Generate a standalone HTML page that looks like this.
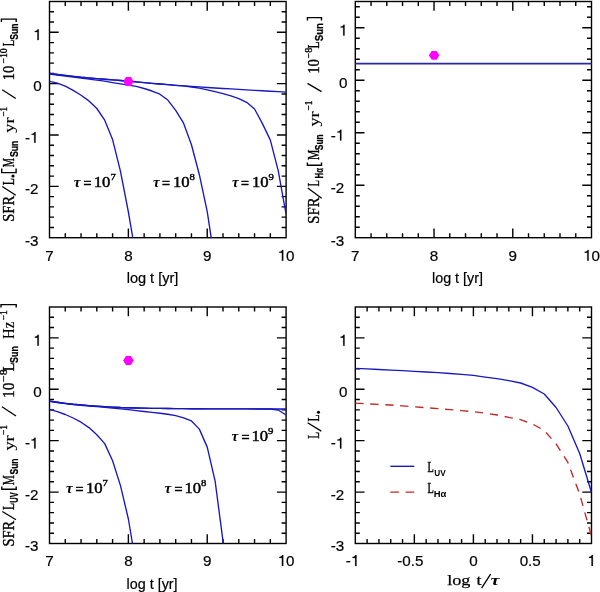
<!DOCTYPE html>
<html><head><meta charset="utf-8"><style>
html,body{margin:0;padding:0;background:#fff;width:600px;height:592px;overflow:hidden}
svg{display:block;will-change:transform}
.tl{font-family:"Liberation Sans",sans-serif;font-size:15.2px;fill:#000;stroke:#000;stroke-width:0.2px}
text{fill:#000}
</style></head><body>
<svg width="600" height="592" viewBox="0 0 600 592">
<rect width="600" height="592" fill="#fff"/>
<defs><clipPath id="cP1"><rect x="49.5" y="1.5" width="236.6" height="236.2"/></clipPath><clipPath id="cP2"><rect x="355.3" y="1.5" width="236.2" height="236.2"/></clipPath><clipPath id="cP3"><rect x="49.5" y="307" width="236.6" height="236.5"/></clipPath><clipPath id="cP4"><rect x="355.3" y="307" width="236.2" height="236.5"/></clipPath></defs>
<path d="M65.27 237.7v-4.5M65.27 1.5v4.5M81.05 237.7v-4.5M81.05 1.5v4.5M96.82 237.7v-4.5M96.82 1.5v4.5M112.59 237.7v-4.5M112.59 1.5v4.5M128.37 237.7v-9.2M128.37 1.5v9.2M144.14 237.7v-4.5M144.14 1.5v4.5M159.91 237.7v-4.5M159.91 1.5v4.5M175.69 237.7v-4.5M175.69 1.5v4.5M191.46 237.7v-4.5M191.46 1.5v4.5M207.23 237.7v-9.2M207.23 1.5v9.2M223.01 237.7v-4.5M223.01 1.5v4.5M238.78 237.7v-4.5M238.78 1.5v4.5M254.55 237.7v-4.5M254.55 1.5v4.5M270.33 237.7v-4.5M270.33 1.5v4.5M49.5 227.43h4.5M286.1 227.43h-4.5M49.5 217.16h4.5M286.1 217.16h-4.5M49.5 206.89h4.5M286.1 206.89h-4.5M49.5 196.62h4.5M286.1 196.62h-4.5M49.5 186.35h9.2M286.1 186.35h-9.2M49.5 176.08h4.5M286.1 176.08h-4.5M49.5 165.81h4.5M286.1 165.81h-4.5M49.5 155.54h4.5M286.1 155.54h-4.5M49.5 145.27h4.5M286.1 145.27h-4.5M49.5 135h9.2M286.1 135h-9.2M49.5 124.73h4.5M286.1 124.73h-4.5M49.5 114.47h4.5M286.1 114.47h-4.5M49.5 104.2h4.5M286.1 104.2h-4.5M49.5 93.93h4.5M286.1 93.93h-4.5M49.5 83.66h9.2M286.1 83.66h-9.2M49.5 73.39h4.5M286.1 73.39h-4.5M49.5 63.12h4.5M286.1 63.12h-4.5M49.5 52.85h4.5M286.1 52.85h-4.5M49.5 42.58h4.5M286.1 42.58h-4.5M49.5 32.31h9.2M286.1 32.31h-9.2M49.5 22.04h4.5M286.1 22.04h-4.5M49.5 11.77h4.5M286.1 11.77h-4.5" stroke="#000" stroke-width="1.4" fill="none"/>
<rect x="49.5" y="1.5" width="236.6" height="236.2" stroke="#000" stroke-width="1.4" fill="none"/>
<text class="tl" x="24.9" y="245.5">-3</text>
<text class="tl" x="24.9" y="194.15">-2</text>
<text class="tl" x="24.9" y="142.8">-</text>
<path d="M369 0V-709H300C285-640 220-592 110-587V-527H279V0Z" stroke="#000" stroke-width="14" transform="translate(29.96 142.8) scale(0.01520)"/>
<text class="tl" x="33.15" y="91.46">0</text>
<path d="M369 0V-709H300C285-640 220-592 110-587V-527H279V0Z" stroke="#000" stroke-width="14" transform="translate(33.15 40.11) scale(0.01520)"/>
<text class="tl" x="45.27" y="260.7">7</text>
<text class="tl" x="124.14" y="260.7">8</text>
<text class="tl" x="203.01" y="260.7">9</text>
<path d="M369 0V-709H300C285-640 220-592 110-587V-527H279V0Z" stroke="#000" stroke-width="14" transform="translate(277.65 260.7) scale(0.01520)"/>
<text class="tl" x="286.1" y="260.7">0</text>
<path d="M371.05 237.7v-4.5M371.05 1.5v4.5M386.79 237.7v-4.5M386.79 1.5v4.5M402.54 237.7v-4.5M402.54 1.5v4.5M418.29 237.7v-4.5M418.29 1.5v4.5M434.03 237.7v-9.2M434.03 1.5v9.2M449.78 237.7v-4.5M449.78 1.5v4.5M465.53 237.7v-4.5M465.53 1.5v4.5M481.27 237.7v-4.5M481.27 1.5v4.5M497.02 237.7v-4.5M497.02 1.5v4.5M512.77 237.7v-9.2M512.77 1.5v9.2M528.51 237.7v-4.5M528.51 1.5v4.5M544.26 237.7v-4.5M544.26 1.5v4.5M560.01 237.7v-4.5M560.01 1.5v4.5M575.75 237.7v-4.5M575.75 1.5v4.5M355.3 227.2h4.5M591.5 227.2h-4.5M355.3 216.7h4.5M591.5 216.7h-4.5M355.3 206.21h4.5M591.5 206.21h-4.5M355.3 195.71h4.5M591.5 195.71h-4.5M355.3 185.21h9.2M591.5 185.21h-9.2M355.3 174.71h4.5M591.5 174.71h-4.5M355.3 164.22h4.5M591.5 164.22h-4.5M355.3 153.72h4.5M591.5 153.72h-4.5M355.3 143.22h4.5M591.5 143.22h-4.5M355.3 132.72h9.2M591.5 132.72h-9.2M355.3 122.22h4.5M591.5 122.22h-4.5M355.3 111.73h4.5M591.5 111.73h-4.5M355.3 101.23h4.5M591.5 101.23h-4.5M355.3 90.73h4.5M591.5 90.73h-4.5M355.3 80.23h9.2M591.5 80.23h-9.2M355.3 69.74h4.5M591.5 69.74h-4.5M355.3 59.24h4.5M591.5 59.24h-4.5M355.3 48.74h4.5M591.5 48.74h-4.5M355.3 38.24h4.5M591.5 38.24h-4.5M355.3 27.74h9.2M591.5 27.74h-9.2M355.3 17.25h4.5M591.5 17.25h-4.5M355.3 6.75h4.5M591.5 6.75h-4.5" stroke="#000" stroke-width="1.4" fill="none"/>
<rect x="355.3" y="1.5" width="236.2" height="236.2" stroke="#000" stroke-width="1.4" fill="none"/>
<text class="tl" x="330.7" y="245.5">-3</text>
<text class="tl" x="330.7" y="193.01">-2</text>
<text class="tl" x="330.7" y="140.52">-</text>
<path d="M369 0V-709H300C285-640 220-592 110-587V-527H279V0Z" stroke="#000" stroke-width="14" transform="translate(335.76 140.52) scale(0.01520)"/>
<text class="tl" x="338.95" y="88.03">0</text>
<path d="M369 0V-709H300C285-640 220-592 110-587V-527H279V0Z" stroke="#000" stroke-width="14" transform="translate(338.95 35.54) scale(0.01520)"/>
<text class="tl" x="351.07" y="260.7">7</text>
<text class="tl" x="429.81" y="260.7">8</text>
<text class="tl" x="508.54" y="260.7">9</text>
<path d="M369 0V-709H300C285-640 220-592 110-587V-527H279V0Z" stroke="#000" stroke-width="14" transform="translate(583.05 260.7) scale(0.01520)"/>
<text class="tl" x="591.5" y="260.7">0</text>
<path d="M65.27 543.5v-4.5M65.27 307v4.5M81.05 543.5v-4.5M81.05 307v4.5M96.82 543.5v-4.5M96.82 307v4.5M112.59 543.5v-4.5M112.59 307v4.5M128.37 543.5v-9.2M128.37 307v9.2M144.14 543.5v-4.5M144.14 307v4.5M159.91 543.5v-4.5M159.91 307v4.5M175.69 543.5v-4.5M175.69 307v4.5M191.46 543.5v-4.5M191.46 307v4.5M207.23 543.5v-9.2M207.23 307v9.2M223.01 543.5v-4.5M223.01 307v4.5M238.78 543.5v-4.5M238.78 307v4.5M254.55 543.5v-4.5M254.55 307v4.5M270.33 543.5v-4.5M270.33 307v4.5M49.5 533.22h4.5M286.1 533.22h-4.5M49.5 522.93h4.5M286.1 522.93h-4.5M49.5 512.65h4.5M286.1 512.65h-4.5M49.5 502.37h4.5M286.1 502.37h-4.5M49.5 492.09h9.2M286.1 492.09h-9.2M49.5 481.8h4.5M286.1 481.8h-4.5M49.5 471.52h4.5M286.1 471.52h-4.5M49.5 461.24h4.5M286.1 461.24h-4.5M49.5 450.96h4.5M286.1 450.96h-4.5M49.5 440.67h9.2M286.1 440.67h-9.2M49.5 430.39h4.5M286.1 430.39h-4.5M49.5 420.11h4.5M286.1 420.11h-4.5M49.5 409.83h4.5M286.1 409.83h-4.5M49.5 399.54h4.5M286.1 399.54h-4.5M49.5 389.26h9.2M286.1 389.26h-9.2M49.5 378.98h4.5M286.1 378.98h-4.5M49.5 368.7h4.5M286.1 368.7h-4.5M49.5 358.41h4.5M286.1 358.41h-4.5M49.5 348.13h4.5M286.1 348.13h-4.5M49.5 337.85h9.2M286.1 337.85h-9.2M49.5 327.57h4.5M286.1 327.57h-4.5M49.5 317.28h4.5M286.1 317.28h-4.5" stroke="#000" stroke-width="1.4" fill="none"/>
<rect x="49.5" y="307" width="236.6" height="236.5" stroke="#000" stroke-width="1.4" fill="none"/>
<text class="tl" x="24.9" y="551.3">-3</text>
<text class="tl" x="24.9" y="499.89">-2</text>
<text class="tl" x="24.9" y="448.47">-</text>
<path d="M369 0V-709H300C285-640 220-592 110-587V-527H279V0Z" stroke="#000" stroke-width="14" transform="translate(29.96 448.47) scale(0.01520)"/>
<text class="tl" x="33.15" y="397.06">0</text>
<path d="M369 0V-709H300C285-640 220-592 110-587V-527H279V0Z" stroke="#000" stroke-width="14" transform="translate(33.15 345.65) scale(0.01520)"/>
<text class="tl" x="45.27" y="565.9">7</text>
<text class="tl" x="124.14" y="565.9">8</text>
<text class="tl" x="203.01" y="565.9">9</text>
<path d="M369 0V-709H300C285-640 220-592 110-587V-527H279V0Z" stroke="#000" stroke-width="14" transform="translate(277.65 565.9) scale(0.01520)"/>
<text class="tl" x="286.1" y="565.9">0</text>
<path d="M367.11 543.5v-4.5M367.11 307v4.5M378.92 543.5v-4.5M378.92 307v4.5M390.73 543.5v-4.5M390.73 307v4.5M402.54 543.5v-4.5M402.54 307v4.5M414.35 543.5v-9.2M414.35 307v9.2M426.16 543.5v-4.5M426.16 307v4.5M437.97 543.5v-4.5M437.97 307v4.5M449.78 543.5v-4.5M449.78 307v4.5M461.59 543.5v-4.5M461.59 307v4.5M473.4 543.5v-9.2M473.4 307v9.2M485.21 543.5v-4.5M485.21 307v4.5M497.02 543.5v-4.5M497.02 307v4.5M508.83 543.5v-4.5M508.83 307v4.5M520.64 543.5v-4.5M520.64 307v4.5M532.45 543.5v-9.2M532.45 307v9.2M544.26 543.5v-4.5M544.26 307v4.5M556.07 543.5v-4.5M556.07 307v4.5M567.88 543.5v-4.5M567.88 307v4.5M579.69 543.5v-4.5M579.69 307v4.5M355.3 533.22h4.5M591.5 533.22h-4.5M355.3 522.93h4.5M591.5 522.93h-4.5M355.3 512.65h4.5M591.5 512.65h-4.5M355.3 502.37h4.5M591.5 502.37h-4.5M355.3 492.09h9.2M591.5 492.09h-9.2M355.3 481.8h4.5M591.5 481.8h-4.5M355.3 471.52h4.5M591.5 471.52h-4.5M355.3 461.24h4.5M591.5 461.24h-4.5M355.3 450.96h4.5M591.5 450.96h-4.5M355.3 440.67h9.2M591.5 440.67h-9.2M355.3 430.39h4.5M591.5 430.39h-4.5M355.3 420.11h4.5M591.5 420.11h-4.5M355.3 409.83h4.5M591.5 409.83h-4.5M355.3 399.54h4.5M591.5 399.54h-4.5M355.3 389.26h9.2M591.5 389.26h-9.2M355.3 378.98h4.5M591.5 378.98h-4.5M355.3 368.7h4.5M591.5 368.7h-4.5M355.3 358.41h4.5M591.5 358.41h-4.5M355.3 348.13h4.5M591.5 348.13h-4.5M355.3 337.85h9.2M591.5 337.85h-9.2M355.3 327.57h4.5M591.5 327.57h-4.5M355.3 317.28h4.5M591.5 317.28h-4.5" stroke="#000" stroke-width="1.4" fill="none"/>
<rect x="355.3" y="307" width="236.2" height="236.5" stroke="#000" stroke-width="1.4" fill="none"/>
<text class="tl" x="330.7" y="551.3">-3</text>
<text class="tl" x="330.7" y="499.89">-2</text>
<text class="tl" x="330.7" y="448.47">-</text>
<path d="M369 0V-709H300C285-640 220-592 110-587V-527H279V0Z" stroke="#000" stroke-width="14" transform="translate(335.76 448.47) scale(0.01520)"/>
<text class="tl" x="338.95" y="397.06">0</text>
<path d="M369 0V-709H300C285-640 220-592 110-587V-527H279V0Z" stroke="#000" stroke-width="14" transform="translate(338.95 345.65) scale(0.01520)"/>
<text class="tl" x="345.84" y="565.9">-</text>
<path d="M369 0V-709H300C285-640 220-592 110-587V-527H279V0Z" stroke="#000" stroke-width="14" transform="translate(350.9 565.9) scale(0.01520)"/>
<text class="tl" x="397.2" y="565.9">-0.5</text>
<text class="tl" x="469.17" y="565.9">0</text>
<text class="tl" x="519.63" y="565.9">0.5</text>
<path d="M369 0V-709H300C285-640 220-592 110-587V-527H279V0Z" stroke="#000" stroke-width="14" transform="translate(587.27 565.9) scale(0.01520)"/>
<polyline points="49.5,73.5 57.39,74.47 65.27,75.44 73.16,76.41 81.05,77.26 88.93,77.93 96.82,78.6 104.71,79.28 112.59,79.91 120.48,80.54 128.37,81.21 136.25,81.89 144.14,82.59 152.03,83.3 159.91,84 167.8,84.7 175.69,85.3 183.57,85.85 191.46,86.4 199.35,86.95 207.23,87.51 215.12,88.01 223.01,88.48 230.89,88.95 238.78,89.43 246.67,89.9 254.55,90.35 262.44,90.79 270.33,91.23 278.21,91.66 286.1,92.1" fill="none" stroke="#1818c0" stroke-width="1.35" stroke-linejoin="round"  clip-path="url(#cP1)"/>
<polyline points="49.5,73.5 57.39,74.47 65.27,75.44 73.16,76.41 81.05,77.26 88.93,77.93 96.82,78.6 104.71,79.28 112.59,79.91 120.48,80.54 128.37,81.21 136.25,81.89 144.14,82.59 152.03,83.3 159.91,84 167.8,84.7 175.69,85.32 183.57,85.9 191.46,86.99 199.35,88.2 207.23,89.82 215.12,91.67 223.01,93.63 230.89,95.97 238.78,98.59 246.67,102.27 254.55,108.96 262.44,123.59 270.33,140.15 278.21,170.57 286.1,214.5" fill="none" stroke="#1818c0" stroke-width="1.35" stroke-linejoin="round"  clip-path="url(#cP1)"/>
<polyline points="49.5,74 57.39,75 65.27,76 73.16,77.03 81.05,78.09 88.93,79.16 96.82,80.16 104.71,81.16 112.59,82.54 120.48,83.9 128.37,85.16 136.25,86.42 144.14,88.49 152.03,91.01 159.91,94.17 167.8,100.07 175.69,110.42 183.57,123.16 191.46,144.73 199.35,174.71 207.23,211.67 215.12,263.42" fill="none" stroke="#1818c0" stroke-width="1.35" stroke-linejoin="round"  clip-path="url(#cP1)"/>
<polyline points="49.5,81.3 57.39,83.1 65.27,86.2 73.16,90.4 81.05,95.3 88.93,100.9 96.82,108.5 104.71,120.2 112.59,139.6 120.48,171.3 128.37,212 136.25,258" fill="none" stroke="#1818c0" stroke-width="1.35" stroke-linejoin="round"  clip-path="url(#cP1)"/>
<polyline points="355.3,63.7 591.5,63.7" fill="none" stroke="#2a2a9c" stroke-width="1.7" stroke-linejoin="round" />
<polyline points="49.5,401.2 57.39,402.28 65.27,403.35 73.16,404.26 81.05,404.91 88.93,405.56 96.82,406.2 104.71,406.67 112.59,407.1 120.48,407.51 128.37,407.74 136.25,407.96 144.14,408.19 152.03,408.34 159.91,408.43 167.8,408.51 175.69,408.6 183.57,408.68 191.46,408.73 199.35,408.76 207.23,408.8 215.12,408.83 223.01,408.87 230.89,408.9 238.78,408.92 246.67,408.93 254.55,408.94 262.44,408.96 270.33,408.97 278.21,408.99 286.1,409" fill="none" stroke="#1818c0" stroke-width="1.35" stroke-linejoin="round"  clip-path="url(#cP3)"/>
<polyline points="49.5,401.2 57.39,402.28 65.27,403.35 73.16,404.26 81.05,404.91 88.93,405.56 96.82,406.2 104.71,406.67 112.59,407.1 120.48,407.51 128.37,407.74 136.25,407.96 144.14,408.19 152.03,408.34 159.91,408.43 167.8,408.51 175.69,408.6 183.57,408.68 191.46,408.73 199.35,408.76 207.23,408.8 215.12,408.83 223.01,408.87 230.89,408.9 238.78,408.92 246.67,408.94 254.55,408.96 262.44,408.98 270.33,409 278.21,410.01 286.1,415" fill="none" stroke="#1818c0" stroke-width="1.35" stroke-linejoin="round"  clip-path="url(#cP3)"/>
<polyline points="49.5,401.4 57.39,402.52 65.27,403.63 73.16,404.58 81.05,405.29 88.93,405.99 96.82,406.69 104.71,407.41 112.59,408.15 120.48,408.9 128.37,409.64 136.25,410.56 144.14,411.53 152.03,412.43 159.91,413.26 167.8,414.28 175.69,415.68 183.57,417.79 191.46,420.98 199.35,429.14 207.23,447.14 215.12,481.15 223.01,541.04 230.89,590.33" fill="none" stroke="#1818c0" stroke-width="1.35" stroke-linejoin="round"  clip-path="url(#cP3)"/>
<polyline points="49.5,409.3 57.39,411.7 65.27,414.5 73.16,418 81.05,422.2 88.93,427.6 96.82,434.7 104.71,443.6 112.59,460.7 120.48,485.6 128.37,519 136.25,566.2" fill="none" stroke="#1818c0" stroke-width="1.35" stroke-linejoin="round"  clip-path="url(#cP3)"/>
<polyline points="355.3,368.4 367.11,368.9 378.92,369.5 390.73,370.1 402.54,370.7 414.35,371.3 426.16,372 437.97,372.7 449.78,373.5 461.59,374.4 473.4,375.4 485.21,377.1 497.02,378.7 508.83,380.6 520.64,383 532.45,387.3 544.26,394 556.07,407.5 567.88,426 579.69,453.5 591.5,492.5" fill="none" stroke="#1818c0" stroke-width="1.35" stroke-linejoin="round"  clip-path="url(#cP4)"/>
<polyline points="355.3,403.2 367.11,403.8 378.92,404.4 390.73,405 402.54,405.9 414.35,406.8 426.16,407.7 437.97,408.6 449.78,409.6 461.59,410.6 473.4,411.7 485.21,413.2 497.02,415 508.83,417.3 520.64,419.6 532.45,424 544.26,430.5 556.07,443.8 567.88,462.4 579.69,494.2 591.5,536.2" fill="none" stroke="#c02828" stroke-width="1.35" stroke-linejoin="round" stroke-dasharray="8.3 6.7" clip-path="url(#cP4)"/>
<polyline points="390.3,466.3 414.3,466.3" fill="none" stroke="#1818c0" stroke-width="1.35" stroke-linejoin="round" />
<polyline points="390.3,492.1 414.3,492.1" fill="none" stroke="#c02828" stroke-width="1.35" stroke-linejoin="round" stroke-dasharray="8.7 6.6"/>
<text transform="translate(13.7 221.8) rotate(-90)" font-family="Liberation Serif" font-size="16.5" font-weight="normal" font-style="normal" textLength="25.9" lengthAdjust="spacingAndGlyphs" stroke="#000" stroke-width="0.35">SFR</text>
<line x1="15.8" y1="195.2" x2="2.2" y2="186.5" stroke="#000" stroke-width="1.3"/>
<text transform="translate(13.7 185.3) rotate(-90)" font-family="Liberation Serif" font-size="16.5" font-weight="normal" font-style="normal" textLength="7.1" lengthAdjust="spacingAndGlyphs" stroke="#000" stroke-width="0.35">L</text>
<circle cx="13" cy="176" r="1.6" fill="#000"/>
<path d="M1.7 168.6V172.6H16.1V168.6" fill="none" stroke="#000" stroke-width="1.4"/>
<text transform="translate(13.7 167.2) rotate(-90)" font-family="Liberation Serif" font-size="16.5" font-weight="normal" font-style="normal" textLength="9.3" lengthAdjust="spacingAndGlyphs" stroke="#000" stroke-width="0.35">M</text>
<text transform="translate(17.8 157) rotate(-90)" font-family="Liberation Sans" font-size="11" font-weight="bold" font-style="normal" textLength="16.4" lengthAdjust="spacingAndGlyphs" stroke="#000" stroke-width="0.25">Sun</text>
<text transform="translate(13.7 132.7) rotate(-90)" font-family="Liberation Serif" font-size="15" font-weight="normal" font-style="normal" textLength="15.2" lengthAdjust="spacingAndGlyphs" stroke="#000" stroke-width="0.12">yr</text>
<text transform="translate(6.7 116.6) rotate(-90)" font-family="Liberation Serif" font-size="10" font-weight="normal" font-style="normal" textLength="9.7" lengthAdjust="spacingAndGlyphs" stroke="#000" stroke-width="0.35">−1</text>
<line x1="15.8" y1="98.5" x2="2.2" y2="89.8" stroke="#000" stroke-width="1.3"/>
<text transform="translate(13.7 80.3) rotate(-90)" font-family="Liberation Serif" font-size="16" font-weight="normal" font-style="normal" textLength="14.5" lengthAdjust="spacingAndGlyphs" stroke="#000" stroke-width="0.35">10</text>
<text transform="translate(6.7 63.6) rotate(-90)" font-family="Liberation Serif" font-size="10" font-weight="normal" font-style="normal" textLength="15.2" lengthAdjust="spacingAndGlyphs" stroke="#000" stroke-width="0.35">−10</text>
<text transform="translate(13.7 46.3) rotate(-90)" font-family="Liberation Serif" font-size="16.5" font-weight="normal" font-style="normal" textLength="6.6" lengthAdjust="spacingAndGlyphs" stroke="#000" stroke-width="0.35">L</text>
<text transform="translate(17.8 39.7) rotate(-90)" font-family="Liberation Sans" font-size="11" font-weight="bold" font-style="normal" textLength="16.2" lengthAdjust="spacingAndGlyphs" stroke="#000" stroke-width="0.25">Sun</text>
<path d="M1.4 22V19.1H16.2V22" fill="none" stroke="#000" stroke-width="1.4"/>
<text transform="translate(319.3 223.8) rotate(-90)" font-family="Liberation Serif" font-size="16.5" font-weight="normal" font-style="normal" textLength="26.4" lengthAdjust="spacingAndGlyphs" stroke="#000" stroke-width="0.35">SFR</text>
<line x1="321.6" y1="198.2" x2="307.8" y2="188" stroke="#000" stroke-width="1.3"/>
<text transform="translate(319.3 186.4) rotate(-90)" font-family="Liberation Serif" font-size="16.5" font-weight="normal" font-style="normal" textLength="6.5" lengthAdjust="spacingAndGlyphs" stroke="#000" stroke-width="0.35">L</text>
<text transform="translate(323.4 178.4) rotate(-90)" font-family="Liberation Sans" font-size="11" font-weight="bold" font-style="normal" textLength="10.3" lengthAdjust="spacingAndGlyphs" stroke="#000" stroke-width="0.25">Hα</text>
<path d="M307.4 162.4V165.3H321.5V162.4" fill="none" stroke="#000" stroke-width="1.4"/>
<text transform="translate(319.3 160.1) rotate(-90)" font-family="Liberation Serif" font-size="16.5" font-weight="normal" font-style="normal" textLength="10.4" lengthAdjust="spacingAndGlyphs" stroke="#000" stroke-width="0.35">M</text>
<text transform="translate(323.4 150.2) rotate(-90)" font-family="Liberation Sans" font-size="11" font-weight="bold" font-style="normal" textLength="15.9" lengthAdjust="spacingAndGlyphs" stroke="#000" stroke-width="0.25">Sun</text>
<text transform="translate(319.3 126.5) rotate(-90)" font-family="Liberation Serif" font-size="15" font-weight="normal" font-style="normal" textLength="15.2" lengthAdjust="spacingAndGlyphs" stroke="#000" stroke-width="0.12">yr</text>
<text transform="translate(312.3 110.6) rotate(-90)" font-family="Liberation Serif" font-size="10" font-weight="normal" font-style="normal" textLength="10.1" lengthAdjust="spacingAndGlyphs" stroke="#000" stroke-width="0.35">−1</text>
<line x1="321.5" y1="91.6" x2="307.5" y2="83.4" stroke="#000" stroke-width="1.3"/>
<text transform="translate(319.3 73.8) rotate(-90)" font-family="Liberation Serif" font-size="16" font-weight="normal" font-style="normal" textLength="14.7" lengthAdjust="spacingAndGlyphs" stroke="#000" stroke-width="0.35">10</text>
<text transform="translate(312.3 58.5) rotate(-90)" font-family="Liberation Serif" font-size="10" font-weight="normal" font-style="normal" textLength="10.7" lengthAdjust="spacingAndGlyphs" stroke="#000" stroke-width="0.35">−8</text>
<text transform="translate(319.3 48.4) rotate(-90)" font-family="Liberation Serif" font-size="16.5" font-weight="normal" font-style="normal" textLength="7.1" lengthAdjust="spacingAndGlyphs" stroke="#000" stroke-width="0.35">L</text>
<text transform="translate(323.4 41.3) rotate(-90)" font-family="Liberation Sans" font-size="11" font-weight="bold" font-style="normal" textLength="18.3" lengthAdjust="spacingAndGlyphs" stroke="#000" stroke-width="0.25">Sun</text>
<path d="M307.4 20.6V17.6H321.5V20.6" fill="none" stroke="#000" stroke-width="1.4"/>
<text transform="translate(13.9 546.6) rotate(-90)" font-family="Liberation Serif" font-size="16.5" font-weight="normal" font-style="normal" textLength="25.9" lengthAdjust="spacingAndGlyphs" stroke="#000" stroke-width="0.35">SFR</text>
<line x1="16" y1="519.8" x2="2.3" y2="511.5" stroke="#000" stroke-width="1.3"/>
<text transform="translate(13.9 510.1) rotate(-90)" font-family="Liberation Serif" font-size="16.5" font-weight="normal" font-style="normal" textLength="7.1" lengthAdjust="spacingAndGlyphs" stroke="#000" stroke-width="0.35">L</text>
<text transform="translate(18 502.7) rotate(-90)" font-family="Liberation Sans" font-size="11" font-weight="bold" font-style="normal" textLength="10.5" lengthAdjust="spacingAndGlyphs" stroke="#000" stroke-width="0.25">UV</text>
<path d="M1.8 486.5V489.3H16.2V486.5" fill="none" stroke="#000" stroke-width="1.4"/>
<text transform="translate(13.9 485.2) rotate(-90)" font-family="Liberation Serif" font-size="16.5" font-weight="normal" font-style="normal" textLength="10.1" lengthAdjust="spacingAndGlyphs" stroke="#000" stroke-width="0.35">M</text>
<text transform="translate(18 474.5) rotate(-90)" font-family="Liberation Sans" font-size="11" font-weight="bold" font-style="normal" textLength="16" lengthAdjust="spacingAndGlyphs" stroke="#000" stroke-width="0.25">Sun</text>
<text transform="translate(13.9 450.5) rotate(-90)" font-family="Liberation Serif" font-size="15" font-weight="normal" font-style="normal" textLength="15.2" lengthAdjust="spacingAndGlyphs" stroke="#000" stroke-width="0.12">yr</text>
<text transform="translate(6.9 435) rotate(-90)" font-family="Liberation Serif" font-size="10" font-weight="normal" font-style="normal" textLength="10" lengthAdjust="spacingAndGlyphs" stroke="#000" stroke-width="0.35">−1</text>
<line x1="16" y1="416" x2="2" y2="406.8" stroke="#000" stroke-width="1.3"/>
<text transform="translate(13.9 397.9) rotate(-90)" font-family="Liberation Serif" font-size="16" font-weight="normal" font-style="normal" textLength="15.3" lengthAdjust="spacingAndGlyphs" stroke="#000" stroke-width="0.35">10</text>
<text transform="translate(6.9 382) rotate(-90)" font-family="Liberation Serif" font-size="10" font-weight="normal" font-style="normal" textLength="12.5" lengthAdjust="spacingAndGlyphs" stroke="#000" stroke-width="0.35">−8</text>
<text transform="translate(13.9 371.3) rotate(-90)" font-family="Liberation Serif" font-size="16.5" font-weight="normal" font-style="normal" textLength="8.8" lengthAdjust="spacingAndGlyphs" stroke="#000" stroke-width="0.35">L</text>
<text transform="translate(18 363) rotate(-90)" font-family="Liberation Sans" font-size="11" font-weight="bold" font-style="normal" textLength="16.9" lengthAdjust="spacingAndGlyphs" stroke="#000" stroke-width="0.25">Sun</text>
<text transform="translate(13.9 339) rotate(-90)" font-family="Liberation Serif" font-size="16" font-weight="normal" font-style="normal" textLength="17.2" lengthAdjust="spacingAndGlyphs" stroke="#000" stroke-width="0.12">Hz</text>
<text transform="translate(6.9 320.3) rotate(-90)" font-family="Liberation Serif" font-size="10" font-weight="normal" font-style="normal" textLength="10.2" lengthAdjust="spacingAndGlyphs" stroke="#000" stroke-width="0.35">−1</text>
<path d="M1 307.6V304.6H16.2V307.6" fill="none" stroke="#000" stroke-width="1.4"/>
<text transform="translate(318.8 438.7) rotate(-90)" font-family="Liberation Serif" font-size="16.5" font-weight="normal" font-style="normal" textLength="6.8" lengthAdjust="spacingAndGlyphs" stroke="#000" stroke-width="0.35">L</text>
<line x1="321.3" y1="431.1" x2="307.6" y2="422.8" stroke="#000" stroke-width="1.3"/>
<text transform="translate(318.8 421.6) rotate(-90)" font-family="Liberation Serif" font-size="16.5" font-weight="normal" font-style="normal" textLength="7.2" lengthAdjust="spacingAndGlyphs" stroke="#000" stroke-width="0.35">L</text>
<circle cx="318.5" cy="412.3" r="1.55" fill="#000"/>
<text x="126.7" y="283.4" font-family="Liberation Sans" font-size="14.5" font-weight="normal" font-style="normal" textLength="51.7" lengthAdjust="spacingAndGlyphs" stroke="#000" stroke-width="0.2">log t [yr]</text>
<text x="432" y="283.1" font-family="Liberation Sans" font-size="14.5" font-weight="normal" font-style="normal" textLength="51" lengthAdjust="spacingAndGlyphs" stroke="#000" stroke-width="0.2">log t [yr]</text>
<text x="126.6" y="589.1" font-family="Liberation Sans" font-size="14.5" font-weight="normal" font-style="normal" textLength="51" lengthAdjust="spacingAndGlyphs" stroke="#000" stroke-width="0.2">log t [yr]</text>
<text x="447.2" y="585.2" font-family="Liberation Serif" font-size="15.5" font-weight="normal" font-style="normal" textLength="23.3" lengthAdjust="spacingAndGlyphs" stroke="#000" stroke-width="0.25">log</text>
<text x="476.5" y="585.2" font-family="Liberation Serif" font-size="15.5" font-weight="normal" font-style="normal" textLength="5" lengthAdjust="spacingAndGlyphs" stroke="#000" stroke-width="0.25">t</text>
<line x1="481.6" y1="588.2" x2="490.6" y2="574.2" stroke="#000" stroke-width="1.3"/>
<text x="490.5" y="585.2" font-family="Liberation Serif" font-size="15.5" font-weight="bold" font-style="italic" textLength="9" lengthAdjust="spacingAndGlyphs">τ</text>
<text x="73.8" y="187" font-family="Liberation Serif" font-size="14" font-weight="bold" font-style="italic" textLength="6.7" lengthAdjust="spacingAndGlyphs">τ</text>
<text x="83.5" y="187.9" font-family="Liberation Serif" font-size="14" font-weight="normal" font-style="normal" textLength="8" lengthAdjust="spacingAndGlyphs" stroke="#000" stroke-width="0.6">=</text>
<text x="93.8" y="187" font-family="Liberation Serif" font-size="14.5" font-weight="normal" font-style="normal" textLength="16.65" lengthAdjust="spacingAndGlyphs" stroke="#000" stroke-width="0.45">10</text>
<text x="110.4" y="179.6" font-family="Liberation Serif" font-size="8.5" font-weight="normal" font-style="normal" textLength="5.35" lengthAdjust="spacingAndGlyphs" stroke="#000" stroke-width="0.4">7</text>
<text x="153" y="187" font-family="Liberation Serif" font-size="14" font-weight="bold" font-style="italic" textLength="6.7" lengthAdjust="spacingAndGlyphs">τ</text>
<text x="162" y="187.9" font-family="Liberation Serif" font-size="14" font-weight="normal" font-style="normal" textLength="8" lengthAdjust="spacingAndGlyphs" stroke="#000" stroke-width="0.6">=</text>
<text x="173" y="187" font-family="Liberation Serif" font-size="14.5" font-weight="normal" font-style="normal" textLength="16.65" lengthAdjust="spacingAndGlyphs" stroke="#000" stroke-width="0.45">10</text>
<text x="189.6" y="179.6" font-family="Liberation Serif" font-size="8.5" font-weight="normal" font-style="normal" textLength="5.35" lengthAdjust="spacingAndGlyphs" stroke="#000" stroke-width="0.4">8</text>
<text x="232" y="187" font-family="Liberation Serif" font-size="14" font-weight="bold" font-style="italic" textLength="6.7" lengthAdjust="spacingAndGlyphs">τ</text>
<text x="241" y="187.9" font-family="Liberation Serif" font-size="14" font-weight="normal" font-style="normal" textLength="8" lengthAdjust="spacingAndGlyphs" stroke="#000" stroke-width="0.6">=</text>
<text x="252" y="187" font-family="Liberation Serif" font-size="14.5" font-weight="normal" font-style="normal" textLength="16.65" lengthAdjust="spacingAndGlyphs" stroke="#000" stroke-width="0.45">10</text>
<text x="268.6" y="179.6" font-family="Liberation Serif" font-size="8.5" font-weight="normal" font-style="normal" textLength="5.35" lengthAdjust="spacingAndGlyphs" stroke="#000" stroke-width="0.4">9</text>
<text x="66" y="493" font-family="Liberation Serif" font-size="14" font-weight="bold" font-style="italic" textLength="6.7" lengthAdjust="spacingAndGlyphs">τ</text>
<text x="75.5" y="493.9" font-family="Liberation Serif" font-size="14" font-weight="normal" font-style="normal" textLength="8" lengthAdjust="spacingAndGlyphs" stroke="#000" stroke-width="0.6">=</text>
<text x="86" y="493" font-family="Liberation Serif" font-size="14.5" font-weight="normal" font-style="normal" textLength="16.65" lengthAdjust="spacingAndGlyphs" stroke="#000" stroke-width="0.45">10</text>
<text x="102.6" y="485.6" font-family="Liberation Serif" font-size="8.5" font-weight="normal" font-style="normal" textLength="5.35" lengthAdjust="spacingAndGlyphs" stroke="#000" stroke-width="0.4">7</text>
<text x="164.5" y="493" font-family="Liberation Serif" font-size="14" font-weight="bold" font-style="italic" textLength="6.7" lengthAdjust="spacingAndGlyphs">τ</text>
<text x="174.5" y="493.9" font-family="Liberation Serif" font-size="14" font-weight="normal" font-style="normal" textLength="8" lengthAdjust="spacingAndGlyphs" stroke="#000" stroke-width="0.6">=</text>
<text x="184.5" y="493" font-family="Liberation Serif" font-size="14.5" font-weight="normal" font-style="normal" textLength="16.65" lengthAdjust="spacingAndGlyphs" stroke="#000" stroke-width="0.45">10</text>
<text x="201.1" y="485.6" font-family="Liberation Serif" font-size="8.5" font-weight="normal" font-style="normal" textLength="5.35" lengthAdjust="spacingAndGlyphs" stroke="#000" stroke-width="0.4">8</text>
<text x="231.5" y="441" font-family="Liberation Serif" font-size="14" font-weight="bold" font-style="italic" textLength="6.7" lengthAdjust="spacingAndGlyphs">τ</text>
<text x="241.5" y="441.9" font-family="Liberation Serif" font-size="14" font-weight="normal" font-style="normal" textLength="8" lengthAdjust="spacingAndGlyphs" stroke="#000" stroke-width="0.6">=</text>
<text x="251.5" y="441" font-family="Liberation Serif" font-size="14.5" font-weight="normal" font-style="normal" textLength="16.65" lengthAdjust="spacingAndGlyphs" stroke="#000" stroke-width="0.45">10</text>
<text x="268.1" y="433.6" font-family="Liberation Serif" font-size="8.5" font-weight="normal" font-style="normal" textLength="5.35" lengthAdjust="spacingAndGlyphs" stroke="#000" stroke-width="0.4">9</text>
<text x="427.4" y="472" font-family="Liberation Serif" font-size="15" font-weight="normal" font-style="normal" textLength="6.3" lengthAdjust="spacingAndGlyphs" stroke="#000" stroke-width="0.5">L</text>
<text x="434.3" y="476" font-family="Liberation Sans" font-size="9" font-weight="bold" font-style="normal" textLength="11.4" lengthAdjust="spacingAndGlyphs">UV</text>
<text x="427.4" y="493.3" font-family="Liberation Serif" font-size="15" font-weight="normal" font-style="normal" textLength="6.3" lengthAdjust="spacingAndGlyphs" stroke="#000" stroke-width="0.5">L</text>
<text x="433.7" y="496.7" font-family="Liberation Sans" font-size="9" font-weight="bold" font-style="normal" textLength="12.6" lengthAdjust="spacingAndGlyphs">Hα</text>
<polygon points="123.1,81.5 125.95,77.1 130.85,77.1 133.7,81.5 130.85,85.9 125.95,85.9" fill="#ff00ff"/>
<polygon points="428.8,55.3 431.65,50.9 436.55,50.9 439.4,55.3 436.55,59.7 431.65,59.7" fill="#ff00ff"/>
<polygon points="123.1,360.5 125.95,356.1 130.85,356.1 133.7,360.5 130.85,364.9 125.95,364.9" fill="#ff00ff"/>
</svg>
</body></html>
